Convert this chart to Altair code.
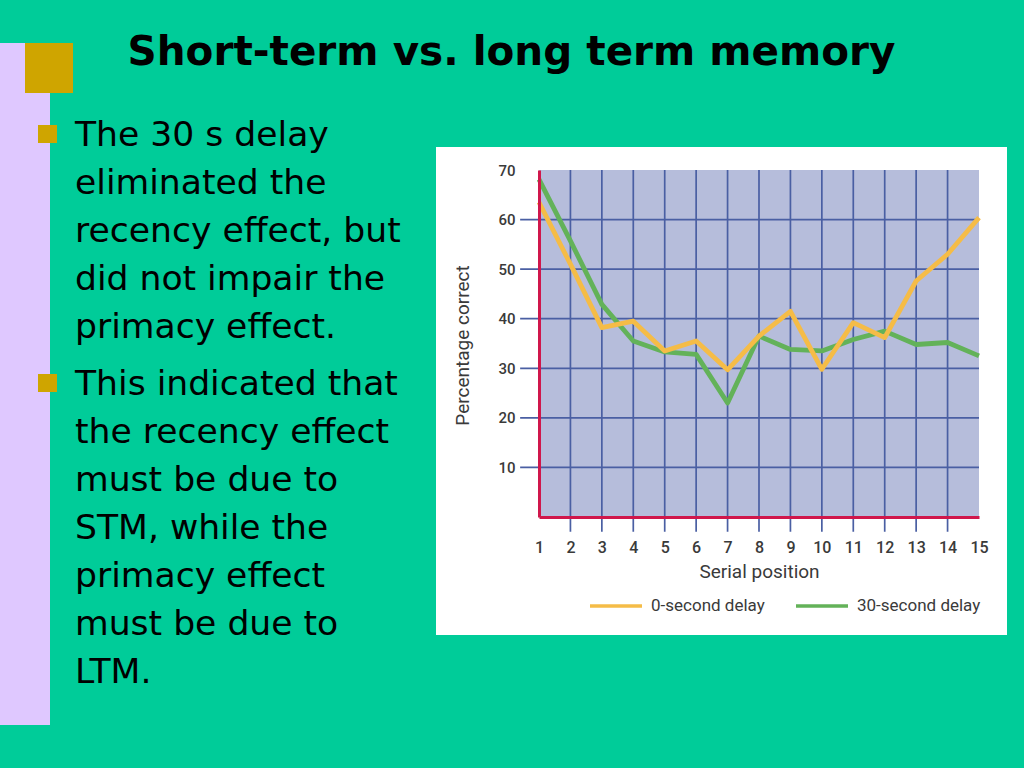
import altair as alt
import pandas as pd

# ---------------- data ----------------
positions = list(range(1, 16))
delay_0s = [63.5, 51.0, 38.2, 39.5, 33.5, 35.5, 29.7, 36.5, 41.5, 29.8, 39.2, 36.2, 47.6, 53.0, 60.4]
delay_30s = [68.1, 55.7, 42.9, 35.5, 33.3, 32.8, 23.0, 36.5, 33.8, 33.5, 35.8, 37.5, 34.8, 35.2, 32.5]
series_names = ["0-second delay", "30-second delay"]
series_colors = ["#F5BC47", "#63B259"]
y_labels = [10, 20, 30, 40, 50, 60, 70]
grid_y = [10, 20, 30, 40, 50, 60]
grid_x = list(range(2, 15))

title_text = "Short-term vs. long term memory"
bullet1 = ["The 30 s delay", "eliminated the", "recency effect, but",
           "did not impair the", "primacy effect."]
bullet2 = ["This indicated that", "the recency effect", "must be due to",
           "STM, while the", "primacy effect", "must be due to", "LTM."]

# ---------------- styles ----------------
SLIDE_BG = "#00CC99"
LAVENDER = "#DFC8FF"
GOLD = "#CFA500"
PLOT_BG = "#B6BDDB"
GRID = "#4A5FA3"
RED = "#D0174B"
LABEL = "#3a3a3a"
FONT = "Roboto"

# view origin in page pixels: (539, 170); decorations positioned relative to it
OX, OY = 539, 170

rows = []
for n, vals in ((series_names[1], delay_30s), (series_names[0], delay_0s)):
    for p, v in zip(positions, vals):
        rows.append({"pos": p, "pct": v, "series": n})
df = pd.DataFrame(rows)
one = pd.DataFrame({"k": [0]})


def rect(x1, y1, x2, y2, color):
    return alt.Chart(one).mark_rect(color=color).encode(
        x=alt.value(x1 - OX), x2=alt.value(x2 - OX),
        y=alt.value(y1 - OY), y2=alt.value(y2 - OY))


def para(lines, x, y, size, weight="normal", align="left"):
    return alt.Chart(one).mark_text(
        text="\n".join(lines), lineBreak="\n", font="DejaVu Sans",
        fontSize=size, fontWeight=weight, lineHeight=48,
        color="black", align=align, baseline="alphabetic"
    ).encode(x=alt.value(x - OX), y=alt.value(y - OY))


panel = rect(436, 147, 1007, 635, "white")
lav = rect(0, 43, 50, 725, LAVENDER)
gold = rect(25, 43, 73, 93, GOLD)
b1 = rect(38, 125, 57, 143, GOLD)
b2 = rect(38, 374, 57, 392, GOLD)

title = para([title_text], 511.5, 65, 40.5, "bold", "center")
txt1 = para(bullet1, 75, 146, 34.6)
txt2 = para(bullet2, 75, 395, 34.6)

xscale = alt.Scale(domain=[1, 15], nice=False, zero=False)
yscale = alt.Scale(domain=[0, 70], nice=False, zero=False)

xaxis = alt.Axis(values=positions, format="d", ticks=False, grid=False,
                 domainColor=RED, domainWidth=3, labelPadding=22,
                 labelFlush=False, labelOverlap=False,
                 labelFont=FONT, labelFontSize=16, labelFontWeight=500,
                 labelColor=LABEL, title="Serial position",
                 titleFont=FONT, titleFontSize=19, titleFontWeight="normal",
                 titleColor=LABEL, titleX=220, titleY=54,
                 titleBaseline="middle", zindex=1)
yaxis = alt.Axis(values=y_labels, ticks=False, grid=False,
                 domainColor=RED, domainWidth=3, labelPadding=24,
                 labelFont=FONT, labelFontSize=15, labelFontWeight=500,
                 labelColor=LABEL, title="Percentage correct",
                 titleFont=FONT, titleFontSize=19, titleFontWeight="normal",
                 titleColor=LABEL, titleX=462 - OX, titleY=345 - OY,
                 titleAngle=270, titleAlign="center",
                 titleBaseline="middle", zindex=1)

# plot area background spanning the full axis ranges
bg_df = pd.DataFrame({"pos": [1], "pos_end": [15], "pct": [0], "pct_end": [70]})
plotbg = alt.Chart(bg_df).mark_rect(color=PLOT_BG).encode(
    x=alt.X("pos:Q", scale=xscale, axis=xaxis), x2="pos_end:Q",
    y=alt.Y("pct:Q", scale=yscale, axis=yaxis), y2="pct_end:Q")

# horizontal grid lines reaching a little left of the y axis (tick marks)
hg_df = pd.DataFrame({"pct": grid_y, "pos": [0.4] * len(grid_y), "pos_end": [15] * len(grid_y)})
hgrid = alt.Chart(hg_df).mark_rule(color=GRID, strokeWidth=1.7).encode(
    y=alt.Y("pct:Q", scale=yscale, axis=yaxis),
    x=alt.X("pos:Q", scale=xscale, axis=xaxis), x2="pos_end:Q")

# vertical grid lines reaching a little below the x axis (tick marks)
vg_df = pd.DataFrame({"pos": grid_x, "pct": [70] * len(grid_x), "pct_end": [-3] * len(grid_x)})
vgrid = alt.Chart(vg_df).mark_rule(color=GRID, strokeWidth=1.7).encode(
    x=alt.X("pos:Q", scale=xscale, axis=xaxis),
    y=alt.Y("pct:Q", scale=yscale, axis=yaxis), y2="pct_end:Q")

lines = alt.Chart(df).mark_line(strokeWidth=4.8, strokeJoin="round").encode(
    x=alt.X("pos:Q", scale=xscale, axis=xaxis),
    y=alt.Y("pct:Q", scale=yscale, axis=yaxis),
    color=alt.Color("series:N",
                    scale=alt.Scale(domain=series_names, range=series_colors),
                    legend=alt.Legend(title=None, orient="none",
                                      legendX=588 - OX, legendY=578 - OY,
                                      direction="horizontal", symbolType="stroke",
                                      symbolSize=2704, symbolStrokeWidth=3.5,
                                      labelFont=FONT, labelFontSize=17,
                                      labelColor=LABEL, labelOffset=7,
                                      columnPadding=24)),
)

chart = alt.layer(
    panel, lav, gold, b1, b2, title, txt1, txt2, plotbg, hgrid, vgrid, lines
).properties(
    width=440, height=347,
    padding={"left": OX, "top": OY, "right": 1024 - 979, "bottom": 768 - 517},
    autosize=alt.AutoSizeParams(type="none"),
).configure(background=SLIDE_BG).configure_view(strokeWidth=0)

# remove page margin so the slide fills the window
try:
    import altair.utils.html as _h
    _std = _h.TEMPLATES["standard"]

    class _Wrap:
        def render(self, *a, **k):
            out = _std.render(*a, **k)
            css = ("<style>html,body{margin:0;padding:0;overflow:hidden;"
                   "background:%s;}</style>" % SLIDE_BG)
            if "<head>" in out:
                return out.replace("<head>", "<head>" + css, 1)
            return css + out

    _h.TEMPLATES["standard"] = _Wrap()
    chart.to_html()
except Exception:
    try:
        _h.TEMPLATES["standard"] = _std
    except Exception:
        pass

chart.save("out.html", embed_options={"renderer": "svg", "actions": False})
